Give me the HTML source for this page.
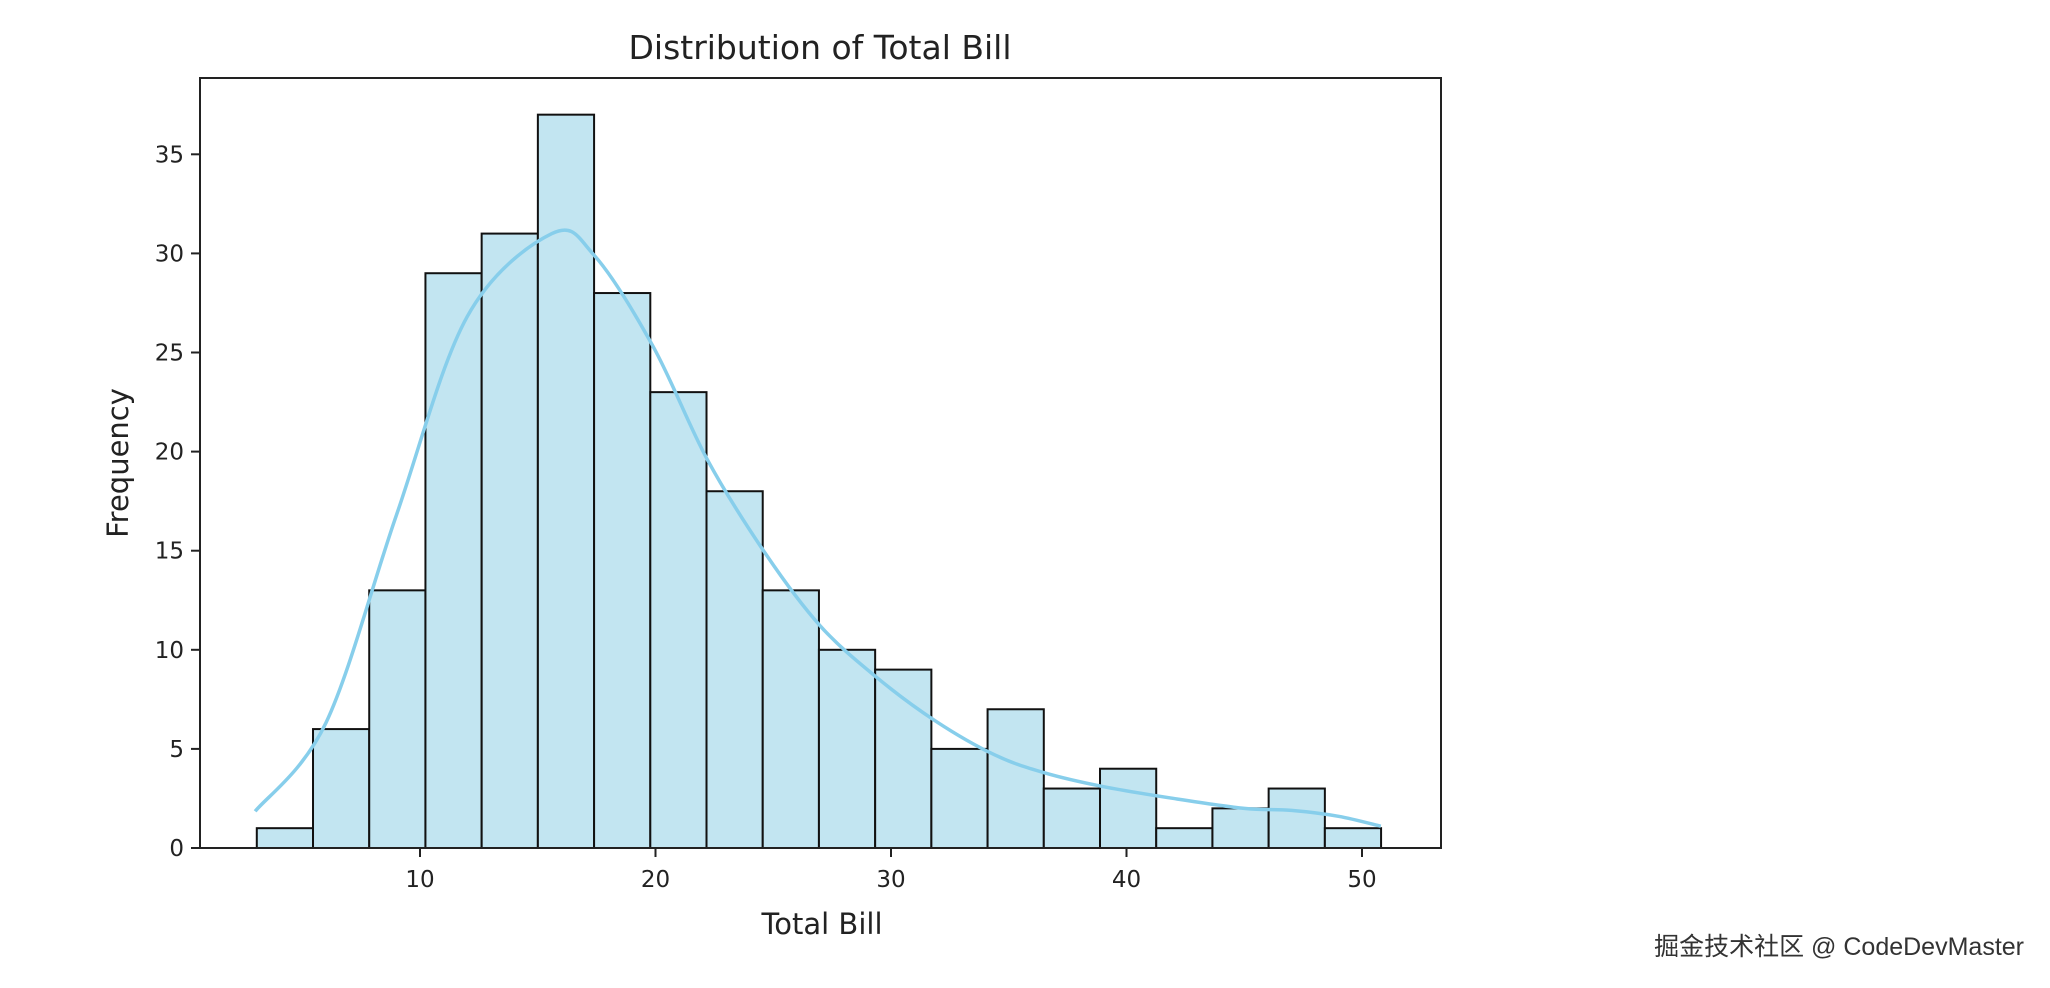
<!DOCTYPE html>
<html><head><meta charset="utf-8"><style>
body{margin:0;background:#fff;}
svg{display:block;font-family:"DejaVu Sans","Liberation Sans","Noto Sans CJK SC",sans-serif;}
</style></head><body>
<svg id="chart" width="2050" height="988">
<text x="820" y="59" text-anchor="middle" font-size="33" fill="#222">Distribution of Total Bill</text>
<text x="822" y="934" text-anchor="middle" font-size="29" fill="#222">Total Bill</text>
<text transform="translate(128,463) rotate(-90)" text-anchor="middle" font-size="29" fill="#222">Frequency</text>
<text x="2024" y="955" text-anchor="end" font-size="25" fill="#333" font-family="'Liberation Sans','Noto Sans CJK SC',sans-serif">掘金技术社区 @ CodeDevMaster</text>
<g id="bars"></g><g id="kde"></g><g id="axes"></g>
</svg>
<script>
const counts=[1,6,13,29,31,37,28,23,18,13,10,9,5,7,3,4,1,2,3,1];
const binStart=3.07, binEnd=50.81;
const xTicks=[10,20,30,40,50];
const yTicks=[0,5,10,15,20,25,30,35];
const kdeX=[3.0,6.0,9.0,12.0,15.6,17.4,19.9,22.2,24.7,27.0,29.4,31.9,34.4,36.5,39.0,42.0,45.0,47.0,49.0,50.8];
const kdeY=[1.85,6.3,16.8,26.8,31.0,29.9,25.3,19.6,14.8,11.2,8.6,6.4,4.7,3.8,3.1,2.5,2.0,1.9,1.6,1.1];
const L=200,R=1441,T=78,B=848;
const xs=v=>184.5+(v)*23.55;
const ys=v=>B-v*(B-T)/38.85;
const NS="http://www.w3.org/2000/svg";
function mk(t,a,p){const e=document.createElementNS(NS,t);for(const k in a)e.setAttribute(k,a[k]);p.appendChild(e);return e;}
const bars=document.getElementById('bars');
const bw=(binEnd-binStart)/counts.length;
counts.forEach((c,i)=>{
 const x0=xs(binStart+i*bw),x1=xs(binStart+(i+1)*bw);
 const r=mk('rect',{x:x0,y:ys(c),width:x1-x0,height:ys(0)-ys(c),fill:'#c2e5f1',stroke:'#111','stroke-width':2},bars);
 
 
});
const pts=kdeX.map((x,i)=>[xs(x),ys(kdeY[i])]);
let d='M'+pts[0][0]+','+pts[0][1];
for(let i=0;i<pts.length-1;i++){
 const p0=pts[i-1]||pts[i],p1=pts[i],p2=pts[i+1],p3=pts[i+2]||p2;
 d+=' C'+(p1[0]+(p2[0]-p0[0])/6)+','+(p1[1]+(p2[1]-p0[1])/6)+' '+(p2[0]-(p3[0]-p1[0])/6)+','+(p2[1]-(p3[1]-p1[1])/6)+' '+p2[0]+','+p2[1];
}
const k=mk('path',{d:d,fill:'none',stroke:'#87ceeb','stroke-width':3.5},document.getElementById('kde'));


const ax=document.getElementById('axes');
const fr=mk('rect',{x:L,y:T,width:R-L,height:B-T,fill:'none',stroke:'#222','stroke-width':2},ax);


xTicks.forEach(v=>{
 mk('line',{x1:xs(v),x2:xs(v),y1:B,y2:B+9,stroke:'#222','stroke-width':2},ax);
 const t=mk('text',{x:xs(v),y:B+39,'text-anchor':'middle','font-size':23,fill:'#222'},ax);
 t.textContent=v;
 
 
});
yTicks.forEach(v=>{
 mk('line',{x1:L-9,x2:L,y1:ys(v),y2:ys(v),stroke:'#222','stroke-width':2},ax);
 const t=mk('text',{x:L-16,y:ys(v)+8,'text-anchor':'end','font-size':23,fill:'#222'},ax);
 t.textContent=v;
 
 
});
</script>
</body></html>
